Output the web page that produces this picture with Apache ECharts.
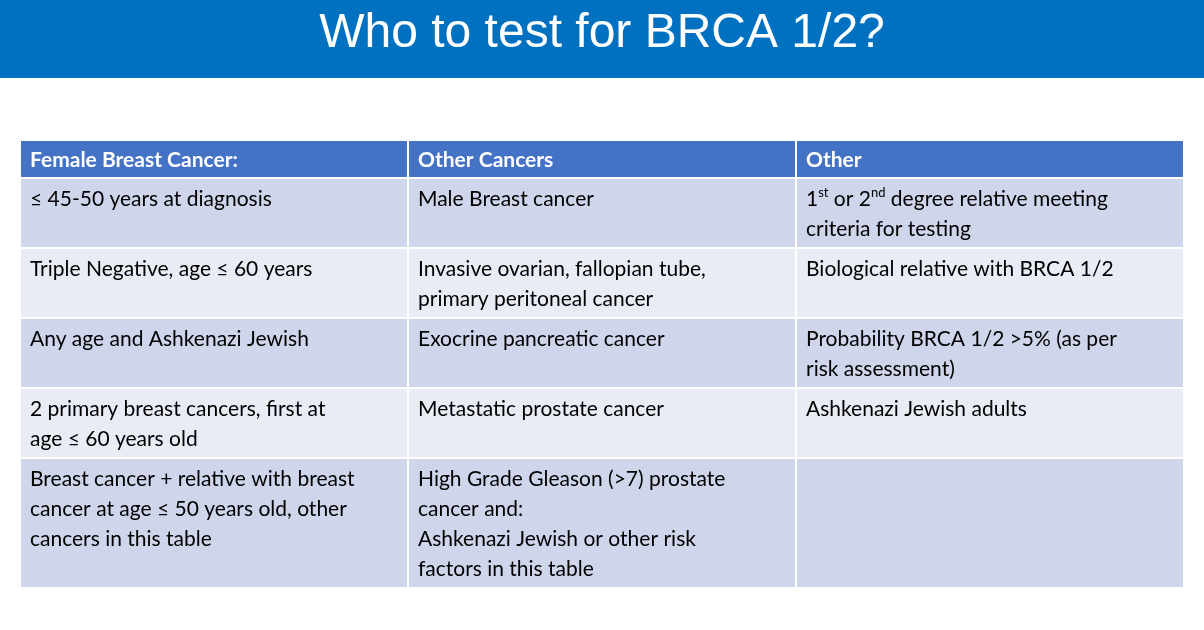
<!DOCTYPE html>
<html lang="en">
<head>
<meta charset="UTF-8">
<title>Who to test for BRCA 1/2?</title>
<script src="https://cdn.jsdelivr.net/npm/echarts@6/dist/echarts.min.js"></script>
<style>body{margin:0;background:#fff}</style>
</head>
<body>
<div id="main" style="width:1204px;height:630px"></div>
<script>
var title = 'Who to test for BRCA 1/2?';
var headers = ['Female Breast Cancer:', 'Other Cancers', 'Other'];
var colBreast = [
    '≤ 45-50 years at diagnosis',
    'Triple Negative, age ≤ 60 years',
    'Any age and Ashkenazi Jewish',
    '2 primary breast cancers, first at\nage ≤ 60 years old',
    'Breast cancer + relative with breast\ncancer at age ≤ 50 years old, other\ncancers in this table'
];
var colOtherCancers = [
    'Male Breast cancer',
    'Invasive ovarian, fallopian tube,\nprimary peritoneal cancer',
    'Exocrine pancreatic cancer',
    'Metastatic prostate cancer',
    'High Grade Gleason (>7) prostate\ncancer and:\nAshkenazi Jewish or other risk\nfactors in this table'
];
var colOther = [
    '{t|1}{s|st}{t| or 2}{s|nd}{t| degree relative meeting}\n{t|criteria for testing}',
    'Biological relative with BRCA 1/2',
    'Probability BRCA 1/2 >5% (as per\nrisk assessment)',
    'Ashkenazi Jewish adults',
    ''
];
var rowColors = ['#CFD5EA', '#E9EBF5'];

// row heights from the number of text lines
var columns = [colBreast, colOtherCancers, colOther];
var rowTops = [0], heights = [38];
for (var r = 0; r < colBreast.length; r++) {
    var lines = 1;
    columns.forEach(function (c) { lines = Math.max(lines, c[r].split('\n').length); });
    lines = Math.max(lines, 2);
    heights.push(lines * 30 + 10);
}
for (var i = 1; i < heights.length; i++) rowTops.push(rowTops[i - 1] + heights[i - 1]);
var total = rowTops[rowTops.length - 1] + heights[heights.length - 1];

var data = [];
for (var row = 0; row < heights.length; row++) {
    for (var col = 0; col < 3; col++) {
        var txt = row === 0 ? headers[col] : columns[col][row - 1];
        data.push([col, rowTops[row], heights[row], row, txt]);
    }
}

var chart = echarts.init(document.getElementById('main'));
chart.setOption({
    animation: false,
    graphic: [
        { type: 'rect', left: 0, top: 0, shape: { width: 1204, height: 78 }, style: { fill: '#0070C0' } },
        { type: 'text', left: 'center', top: 10, style: { text: title, fill: '#fff', font: '48px "Liberation Sans", Arial' } }
    ],
    grid: { left: 20, right: 20, top: 140, height: total },
    xAxis: { type: 'value', min: 0, max: 3, show: false },
    yAxis: { type: 'value', min: 0, max: total, inverse: true, show: false },
    series: [{
        type: 'custom',
        data: data,
        renderItem: function (params, api) {
            var c = api.value(0), y = api.value(1), h = api.value(2), row = api.value(3);
            var txt = data[params.dataIndex][4];
            var p0 = api.coord([c, y]), p1 = api.coord([c + 1, y + h]);
            var fill = row === 0 ? '#4472C4' : rowColors[(row - 1) % 2];
            return {
                type: 'group',
                children: [{
                    type: 'rect',
                    shape: { x: p0[0], y: p0[1], width: p1[0] - p0[0], height: p1[1] - p0[1] },
                    style: { fill: fill, stroke: '#fff', lineWidth: 2 }
                }, {
                    type: 'text',
                    x: p0[0] + 10, y: p0[1] + (row === 0 ? 5 : 6),
                    style: {
                        text: txt,
                        fill: row === 0 ? '#fff' : '#000',
                        fontFamily: 'Lato',
                        fontSize: 21,
                        fontWeight: row === 0 ? 'bold' : 'normal',
                        lineHeight: 30,
                        rich: {
                            t: { fontFamily: 'Lato', fontSize: 21, lineHeight: 30, fill: '#000' },
                            s: { fontFamily: 'Lato', fontSize: 13, lineHeight: 30, padding: [0, 0, 12, 0], fill: '#000' }
                        }
                    }
                }]
            };
        }
    }]
});
</script>
</body>
</html>
